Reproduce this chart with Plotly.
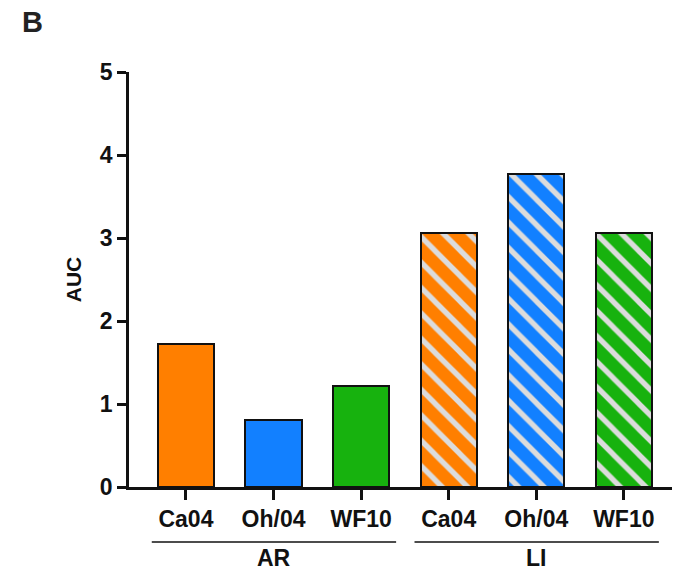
import plotly.graph_objects as go

strains = ["Ca04", "Oh/04", "WF10", "Ca04", "Oh/04", "WF10"]
groups = ["AR", "LI"]
auc_values = [1.72, 0.81, 1.22, 3.06, 3.77, 3.06]
colors = ["#FF7F00", "#1280FF", "#17B20E", "#FF7F00", "#1280FF", "#17B20E"]
hatched = [False, False, False, True, True, True]
y_ticks = [0, 1, 2, 3, 4, 5]

FONT = "Liberation Sans, Arial, sans-serif"
xs = list(range(len(strains)))

fig = go.Figure()
for i in xs:
    pattern = dict(shape="\\", fgcolor="#dcdcdc", bgcolor=colors[i], size=18,
                   solidity=0.3, fillmode="replace") if hatched[i] else dict(shape="")
    fig.add_trace(go.Bar(
        x=[i], y=[auc_values[i]], width=0.64,
        marker=dict(color=colors[i], line=dict(color="#111111", width=2), pattern=pattern),
        showlegend=False,
    ))

# group underline + labels
for g, name in enumerate(groups):
    start, end = g * 3, g * 3 + 2
    fig.add_shape(type="line", xref="x", yref="paper",
                  x0=start - 0.39, x1=end + 0.40, y0=-0.1325, y1=-0.1325,
                  line=dict(color="#111111", width=1.5))
    fig.add_annotation(x=(start + end) / 2, xref="x", y=-0.172, yref="paper",
                       text="<b>%s</b>" % name, showarrow=False,
                       font=dict(family=FONT, size=23, color="#111111"), yanchor="middle")

fig.add_annotation(x=-0.201, xref="paper", y=1.12, yref="paper",
                   text="<b>B</b>", showarrow=False, xanchor="left", yanchor="middle",
                   font=dict(family=FONT, size=29, color="#222222"))

fig.update_layout(
    width=673, height=574,
    margin=dict(l=129, r=1, t=72, b=87),
    paper_bgcolor="white", plot_bgcolor="white",
    bargap=0,
    xaxis=dict(range=[-0.65, 5.55], tickvals=xs, ticktext=["<b>%s</b>" % s for s in strains],
               showline=True, linecolor="#111111", linewidth=2.5,
               ticks="outside", ticklen=10, tickwidth=2.5, tickcolor="#111111",
               tickfont=dict(family=FONT, size=23, color="#111111"),
               showgrid=False, zeroline=False, fixedrange=True),
    yaxis=dict(range=[0, 5], tickvals=y_ticks, ticktext=["<b>%d</b>" % v for v in y_ticks],
               showline=True, linecolor="#111111", linewidth=2.5,
               ticks="outside", ticklen=9, tickwidth=2.5, tickcolor="#111111",
               tickfont=dict(family=FONT, size=23, color="#111111"),
               showgrid=False, zeroline=False,
               title=dict(text="<b>AUC</b>", font=dict(family=FONT, size=21, color="#111111"),
                          standoff=13)),
)

fig.write_html("out.html")
